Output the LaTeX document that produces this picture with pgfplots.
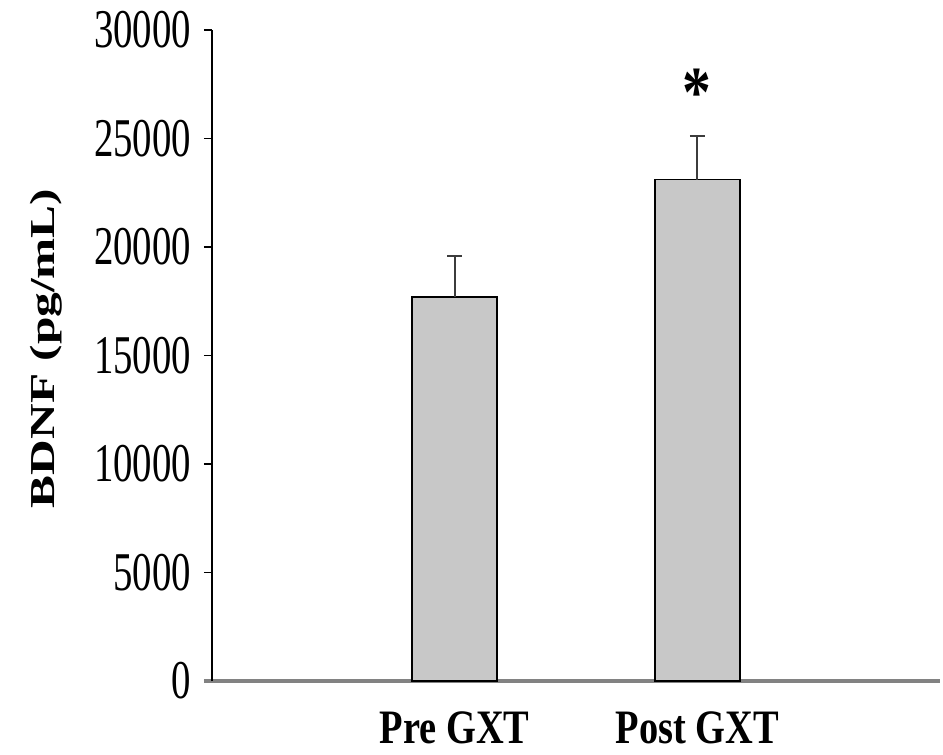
\documentclass[border=0pt]{standalone}
\usepackage{fontspec}
\setmainfont{Liberation Serif}
\newfontfamily\tickfont{Liberation Serif}[FakeStretch=0.71]
\newfontfamily\xlabfont{Liberation Serif}[FakeStretch=0.8]
\newfontfamily\ylabfont{Liberation Serif}[FakeStretch=1.41]
\usepackage{pgfplots}
\pgfplotsset{compat=1.18}
\definecolor{barfill}{RGB}{200,200,200}
\definecolor{errcol}{RGB}{60,60,60}
\definecolor{xaxcol}{RGB}{130,130,130}
\begin{document}
\begin{tikzpicture}
\path[use as bounding box] (-106pt,-37pt) rectangle (365.5pt,340.5pt);
\begin{axis}[
  at={(0,0)}, anchor=south west,
  scale only axis,
  width=364pt, height=325.5pt,
  xmin=0, xmax=3, ymin=0, ymax=30000,
  axis x line=bottom, axis y line=left,
  x axis line style={xaxcol, line width=1.6pt, -, shorten <=-4pt},
  y axis line style={black, line width=0.8pt, -},
  xtick={1,2}, xticklabels={Pre GXT, Post GXT},
  xtick style={draw=none},
  xticklabel style={font=\xlabfont\bfseries\fontsize{24}{28}\selectfont, anchor=base, inner sep=0pt, yshift=-27pt},
  ytick={0,5000,10000,15000,20000,25000,30000},
  ytick style={black, line width=0.8pt},
  tick align=outside, major tick length=4pt,
  yticklabel style={font=\tickfont\fontsize{27.3}{30}\selectfont, xshift=-3pt},
  /pgf/number format/assume math mode=true,
  /pgf/number format/1000 sep={},
  scaled y ticks=false,
  ylabel={BDNF (pg/mL)},
  ylabel style={font=\ylabfont\bfseries\fontsize{17.5}{20}\selectfont, at={(axis description cs:-0.2157,0.511)}, anchor=base},
  clip=false,
]
\addplot[ybar, bar width=0.35, fill=barfill, draw=black, line width=0.75pt,
  error bars/.cd, y dir=plus, y explicit,
  error bar style={errcol, line width=0.9pt},
  error mark options={errcol, line width=0.9pt, rotate=90, mark size=3.75pt}]
  coordinates {(1,17700) +- (0,1900) (2,23100) +- (0,2000)};
\node[font=\xlabfont\bfseries\fontsize{36}{40}\selectfont, anchor=north, inner sep=0pt] at (axis cs:2,28200) {*};
\end{axis}
\end{tikzpicture}
\end{document}
